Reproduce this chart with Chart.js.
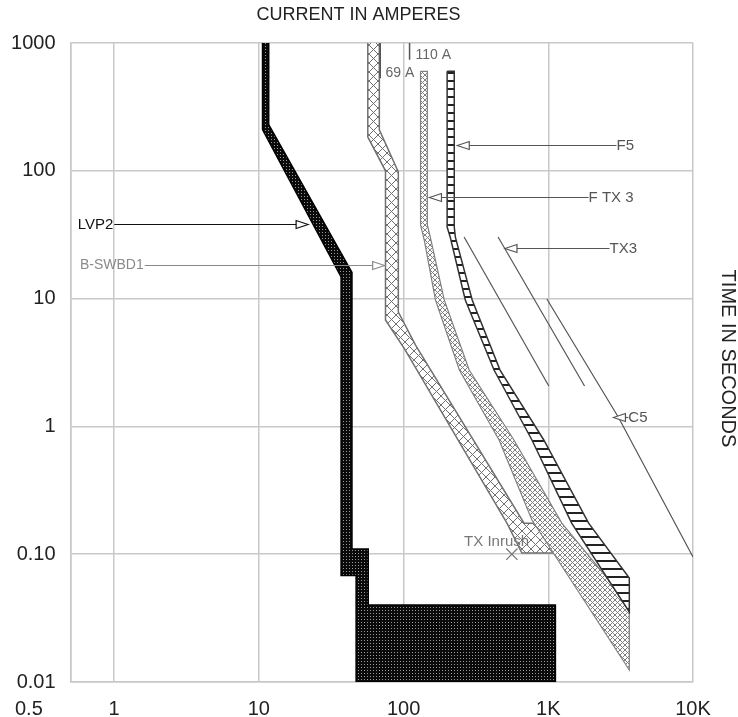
<!DOCTYPE html>
<html>
<head>
<meta charset="utf-8">
<script src="https://cdn.jsdelivr.net/npm/chart.js@4.4.1/dist/chart.umd.min.js"></script>
<style>
  html, body { margin: 0; padding: 0; background: #fff; }
  canvas { display: block; }
</style>
</head>
<body>
<canvas id="tccChart" width="738" height="717"></canvas>
<script>
// axis ticks
const xTicks = [0.5, 1, 10, 100, 1000, 10000];
const xTickLabels = ['0.5', '1', '10', '100', '1K', '10K'];
const yTicks = [0.01, 0.1, 1, 10, 100, 1000];
const yTickLabels = ['0.01', '0.10', '1', '10', '100', '1000'];

// device curves, each point is [amperes, seconds]
const lvp2Band = [[10.6, 1000], [10.6, 210], [37, 14.8], [37, 0.068], [47, 0.068], [47, 0.01],
  [1120, 0.01], [1120, 0.04], [57, 0.04], [57, 0.11], [44, 0.11], [44, 16], [11.7, 230], [11.7, 1000]];
const bswbd1Band = [[56.6, 1000], [56.6, 184], [75, 100], [75, 6.8], [102, 4.0], [518, 0.175], [657, 0.102],
  [1140, 0.102], [1140, 0.175], [680, 0.175], [121, 4.33], [92, 7.85], [92, 98], [68, 209], [68, 1000]];
const ftx3Band = [[131, 600], [131, 37.7], [139, 28.7], [166, 9.76], [243, 2.76], [457, 0.783], [771, 0.185],
  [3630, 0.0124], [3630, 0.04], [1240, 0.175], [579, 0.783], [284, 2.76], [191, 9.76], [153, 30.3],
  [146, 37.7], [146, 600], [131, 600]];
const f5Band = [[200, 600], [200, 36.3], [210, 30.3], [267, 9.76], [422, 2.76], [771, 0.783], [1450, 0.175],
  [3630, 0.0353], [3630, 0.0651], [1900, 0.175], [931, 0.783], [464, 2.76], [298, 9.76], [228, 30.3],
  [224, 36.3], [224, 600], [200, 600]];
const tx3LineA = [[262, 30.3], [1008, 2.07]];
const tx3LineB = [[450, 30.3], [1780, 2.07]];
const c5Line = [[977, 9.93], [3050, 1.18], [10000, 0.095]];
const txInrush = [[560, 0.1]];
const marker69 = [[69, 1000], [69, 530]];
const marker110 = [[110, 1000], [110, 740]];

// leader labels: arrow tip on the curve, text start (amperes)
const callouts = [
  { text: 'LVP2', tip: [21.9, 38.4], textAt: 0.56, color: '#111', size: 15 },
  { text: 'B-SWBD1', tip: [74, 18.3], textAt: 0.58, color: '#8a8a8a', size: 14 },
  { text: 'F5', tip: [235, 159], textAt: 2960, color: '#555', size: 15 },
  { text: 'F TX 3', tip: [151, 62.4], textAt: 1900, color: '#555', size: 15 },
  { text: 'TX3', tip: [502, 24.9], textAt: 2650, color: '#555', size: 15 },
  { text: 'C5', tip: [2820, 1.18], textAt: 3575, color: '#555', size: 15 }
];
const notes = [
  { text: '69 A', at: [75, 582], color: '#666', size: 14 },
  { text: '110 A', at: [121, 805], color: '#666', size: 14 },
  { text: 'TX Inrush', at: [262, 0.1246], color: '#777', size: 15 }
];

const FONT = 'Arial, "Liberation Sans", sans-serif';
const canvas = document.getElementById('tccChart');
const ctx = canvas.getContext('2d');

function makePattern(size, draw) {
  const c = document.createElement('canvas');
  c.width = c.height = size;
  const g = c.getContext('2d');
  draw(g, size);
  return ctx.createPattern(c, 'repeat');
}
const dotsBlack = makePattern(3, (g) => {
  g.fillStyle = '#0a0a0a'; g.fillRect(0, 0, 3, 3);
  g.fillStyle = '#9a9a9a'; g.fillRect(1, 1, 1, 1);
});
const crossHatch = (size, color) => makePattern(size, (g, s) => {
  g.fillStyle = '#fff'; g.fillRect(0, 0, s, s);
  g.strokeStyle = color; g.lineWidth = 1;
  g.beginPath();
  g.moveTo(0, 0); g.lineTo(s, s);
  g.moveTo(s, 0); g.lineTo(0, s);
  g.stroke();
});
const stripes = makePattern(8, (g) => {
  g.fillStyle = '#fff'; g.fillRect(0, 0, 8, 8);
  g.fillStyle = '#222'; g.fillRect(0, 0, 8, 2);
});

const pts = arr => arr.map(p => ({ x: p[0], y: p[1] }));
const band = (data, fill, border, width) => ({
  data: pts(data), showLine: true, pointRadius: 0, fill: 'shape',
  backgroundColor: fill, borderColor: border, borderWidth: width, tension: 0
});
const thin = (data, color, width) => ({
  data: pts(data), showLine: true, pointRadius: 0, fill: false,
  borderColor: color, borderWidth: width
});

const annotate = {
  id: 'annotate',
  afterDatasetsDraw(chart) {
    const { ctx: c, scales: { x, y }, chartArea } = chart;
    c.save();
    c.textBaseline = 'middle';
    c.lineWidth = 1.2;
    callouts.forEach(o => {
      c.font = o.size + 'px ' + FONT;
      const tx = x.getPixelForValue(o.tip[0]);
      const ty = Math.round(y.getPixelForValue(o.tip[1])) + 0.5;
      const lx = x.getPixelForValue(o.textAt);
      const w = c.measureText(o.text).width;
      const dir = lx > tx ? 1 : -1;
      c.strokeStyle = o.color;
      c.beginPath();
      if (dir > 0) { c.moveTo(tx + 12, ty); c.lineTo(lx, ty); }
      else { c.moveTo(lx + w + 1, ty); c.lineTo(tx - 12, ty); }
      c.stroke();
      c.beginPath();
      c.moveTo(tx, ty);
      c.lineTo(tx + 12 * dir, ty - 4);
      c.lineTo(tx + 12 * dir, ty + 4);
      c.closePath();
      c.fillStyle = '#fff'; c.fill(); c.stroke();
      c.fillStyle = o.color;
      c.fillText(o.text, lx, ty);
    });
    notes.forEach(o => {
      c.font = o.size + 'px ' + FONT;
      c.fillStyle = o.color;
      c.fillText(o.text, x.getPixelForValue(o.at[0]), y.getPixelForValue(o.at[1]));
    });
    // axis titles
    c.fillStyle = '#222';
    c.textAlign = 'center';
    c.font = '18px ' + FONT;
    c.fillText('CURRENT IN AMPERES', chartArea.left + 288, 15);
    c.translate(728, (chartArea.top + chartArea.bottom) / 2 - 4);
    c.rotate(Math.PI / 2);
    c.font = '20px ' + FONT;
    c.fillText('TIME IN SECONDS', 0, 0);
    c.restore();
  }
};

const gridStyle = { color: '#c8c8c8', lineWidth: 1.5, drawTicks: false };
const tickFont = { family: FONT, size: 20 };

new Chart(ctx, {
  type: 'scatter',
  data: {
    datasets: [
      thin(tx3LineA, '#555', 1.2),
      thin(tx3LineB, '#555', 1.2),
      thin(c5Line, '#555', 1.2),
      thin(marker69, '#555', 1.5),
      thin(marker110, '#555', 1.5),
      { data: pts(txInrush), pointStyle: 'crossRot', pointRadius: 8, borderColor: '#777', borderWidth: 1.2 },
      band(f5Band, stripes, '#333', 1.5),
      band(ftx3Band, crossHatch(5, '#808080'), '#808080', 1.2),
      band(bswbd1Band, crossHatch(9, '#707070'), '#707070', 1.5),
      band(lvp2Band, dotsBlack, '#000', 1.5)
    ]
  },
  options: {
    responsive: false,
    animation: false,
    layout: { padding: { top: 43, right: 45, left: 0, bottom: 0 } },
    plugins: { legend: { display: false }, tooltip: { enabled: false } },
    scales: {
      x: {
        type: 'logarithmic', min: 0.5, max: 10000,
        afterBuildTicks: s => { s.ticks = xTicks.map(v => ({ value: v })); },
        afterFit: s => { s.height = 35; },
        grid: gridStyle,
        border: { color: '#c8c8c8', width: 1.5 },
        ticks: {
          padding: 15, font: tickFont, color: '#222', maxRotation: 0, autoSkip: false,
          callback: (v, i) => i === 0 ? xTickLabels[i] + '               ' : xTickLabels[i]
        }
      },
      y: {
        type: 'logarithmic', min: 0.01, max: 1000,
        afterBuildTicks: s => { s.ticks = yTicks.map(v => ({ value: v })); },
        afterFit: s => { s.width = 68; },
        grid: gridStyle,
        border: { color: '#c8c8c8', width: 1.5 },
        ticks: {
          padding: 15, font: tickFont, color: '#222', autoSkip: false,
          callback: (v, i) => yTickLabels[i]
        }
      }
    }
  },
  plugins: [annotate]
});
</script>
</body>
</html>
